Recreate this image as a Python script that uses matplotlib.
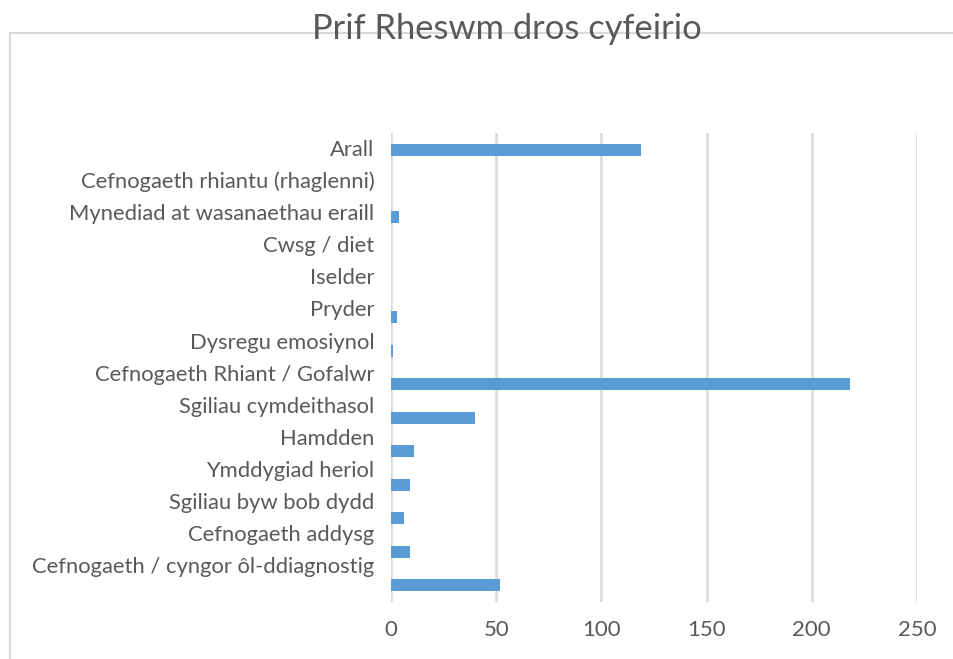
import numpy as np
import matplotlib
matplotlib.use("Agg")
import matplotlib.pyplot as plt
from matplotlib.lines import Line2D

categories = ["Arall", "Cefnogaeth rhiantu (rhaglenni)", "Mynediad at wasanaethau eraill",
              "Cwsg / diet", "Iselder", "Pryder", "Dysregu emosiynol",
              "Cefnogaeth Rhiant / Gofalwr", "Sgiliau cymdeithasol", "Hamdden",
              "Ymddygiad heriol", "Sgiliau byw bob dydd", "Cefnogaeth addysg",
              "Cefnogaeth / cyngor ôl-ddiagnostig"]
values = [119, 0, 4, 0, 0, 3, 1, 218, 40, 11, 9, 6, 9, 52]
x_ticks = [0, 50, 100, 150, 200, 250]
title = "Prif Rheswm dros cyfeirio"

plt.rcParams['font.family'] = ['Lato', 'DejaVu Sans']
grey = "#595959"
grid_c = "#d9d9d9"

W, H = 954, 659
fig = plt.figure(figsize=(W / 100, H / 100), dpi=100)
ax = fig.add_axes([391 / W, 1 - 602 / H, 526 / W, 469 / H])

pos = np.arange(len(categories))
ax.barh(pos, values, height=0.36, color="#5b9bd5", zorder=3)
ax.set_ylim(len(categories) - 0.5, -0.5)
ax.set_xlim(0, 250)

# category labels drift slightly from the bars, as in the original screenshot
label_pos = pos * 0.9576 - 0.05
ax.set_yticks(label_pos)
ax.set_yticklabels(categories, fontsize=15.8, color=grey)
ax.set_xticks(x_ticks)
ax.set_xticklabels([str(t) for t in x_ticks], fontsize=16, color=grey)
ax.tick_params(axis="y", length=0, pad=12)
ax.tick_params(axis="x", length=0, pad=13)
ax.grid(axis="x", color=grid_c, linewidth=1.8, zorder=0)
for s in ax.spines.values():
    s.set_visible(False)

# chart frame border (left and top)
fig.add_artist(Line2D([10 / W, 10 / W], [0, 1 - 33 / H], color=grid_c, linewidth=1.5,
                      transform=fig.transFigure))
fig.add_artist(Line2D([10 / W, 1], [1 - 33 / H, 1 - 33 / H], color=grid_c, linewidth=1.5,
                      transform=fig.transFigure))

fig.text(507 / W, 1 - 29 / H, title, ha="center", va="center", fontsize=24.8, color=grey)

fig.savefig("out.png", dpi=100)
